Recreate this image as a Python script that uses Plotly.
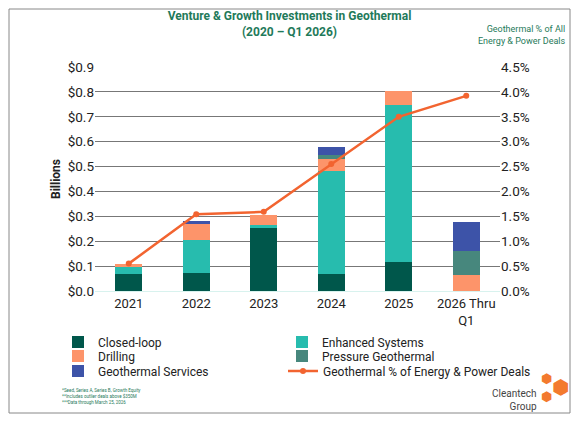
import plotly.graph_objects as go

years = ["2021", "2022", "2023", "2024", "2025", "2026 Thru<br>Q1"]
closed_loop = [0.07, 0.072, 0.254, 0.068, 0.115, 0]
enhanced = [0.027, 0.134, 0.01, 0.414, 0.632, 0]
drilling = [0.011, 0.063, 0.041, 0.048, 0.056, 0.064]
pressure = [0, 0, 0, 0.015, 0, 0.097]
services = [0, 0.012, 0, 0.032, 0, 0.116]
geo_pct = [0.55, 1.54, 1.59, 2.55, 3.5, 3.92]

OFF = 8  # page body margin
W, H = 579 - 2 * OFF, 422 - 2 * OFF
L, R, T, B = 95 - OFF, 79 - OFF, 67 - OFF, 131 - OFF
PW, PH = W - L - R, H - T - B


def px(x, y):
    # reference pixel position -> paper coords
    return (x - OFF - L) / PW, (H - B - (y - OFF)) / PH


GREEN = "#1f7a5a"
fig = go.Figure()
series = [
    ("Closed-loop", closed_loop, "#00574b", "legend"),
    ("Enhanced Systems", enhanced, "#27bcae", "legend"),
    ("Drilling", drilling, "#fd946a", "legend2"),
    ("Pressure Geothermal", pressure, "#47877d", "legend2"),
    ("Geothermal Services", services, "#3d53a8", "legend3"),
]
for name, vals, col, leg in series:
    fig.add_trace(go.Bar(x=years, y=vals, name=name, marker=dict(color=col, line=dict(width=0)),
                         width=0.4, legend=leg))
fig.add_trace(go.Scatter(x=years, y=geo_pct, name="Geothermal % of Energy & Power Deals",
                         yaxis="y2", mode="lines+markers", legend="legend4",
                         line=dict(color="#f26430", width=2.5), marker=dict(size=6)))


def leg_row(y, x=58):
    lx, ly = px(x, y)
    return dict(orientation="h", x=lx, y=ly, yanchor="middle", xanchor="left",
                entrywidth=179, font=dict(size=12), traceorder="normal", itemwidth=30,
                bgcolor="rgba(0,0,0,0)")


leg4 = leg_row(371, 58 + 225)
leg4.pop("entrywidth")

fig.update_layout(
    width=W, height=H, barmode="stack", plot_bgcolor="white", paper_bgcolor="white",
    font=dict(family="Roboto", color="#222", size=12),
    margin=dict(l=L, r=R, t=T, b=B, autoexpand=False),
    title=dict(text="<b>Venture & Growth Investments in Geothermal<br>(2020 – Q1 2026)</b>",
               x=0.5, xanchor="center", y=(H - 12) / H, yanchor="top",
               font=dict(size=12, color=GREEN)),
    xaxis=dict(tickfont=dict(size=13), showline=True, linecolor="#d8f2ee", linewidth=1,
               automargin=False),
    yaxis=dict(range=[0, 0.9], dtick=0.1, tickprefix="$", tickformat=".1f", automargin=False,
               gridcolor="#777", gridwidth=1, zeroline=False, tickfont=dict(size=13.5),
               title=dict(text="<b>Billions</b>", font=dict(size=12), standoff=4)),
    yaxis2=dict(range=[0, 4.5], dtick=0.5, ticksuffix="%", tickformat=".1f", automargin=False,
                overlaying="y", side="right", showgrid=False, tickfont=dict(size=13.5)),
    legend=leg_row(342), legend2=leg_row(356), legend3=leg_row(371), legend4=leg4,
)
ax, ay = px(568, 22)
fig.add_annotation(text="Geothermal % of All<br>Energy & Power Deals", xref="paper", yref="paper",
                   x=ax, y=ay, xanchor="right", yanchor="top", showarrow=False, align="right",
                   font=dict(size=9, color=GREEN))
fx, fy = px(60, 386)
fig.add_annotation(text="*Seed, Series A, Series B, Growth Equity<br>**Includes outlier deals above $350M<br>***Data through March 25, 2026",
                   xref="paper", yref="paper", x=fx, y=fy, xanchor="left", yanchor="top",
                   showarrow=False, align="left", font=dict(size=4.5, color=GREEN))
cx, cy = px(539, 386)
fig.add_annotation(text="Cleantech<br>Group", xref="paper", yref="paper", x=cx, y=cy,
                   xanchor="right", yanchor="top", showarrow=False, align="right",
                   font=dict(size=10, color="#444"))
# logo hexagons as glyphs
for hx, hy, s in [(546, 396, 13), (546, 378, 13), (560, 387, 20)]:
    hxp, hyp = px(hx, hy)
    fig.add_annotation(text="⬢", xref="paper", yref="paper", x=hxp, y=hyp, showarrow=False,
                       xanchor="center", yanchor="middle",
                       font=dict(size=s, color="#f37a2e", family="DejaVu Sans"))
x0, y0 = px(OFF + 1, OFF + 1)
x1, y1 = px(579 - OFF - 1, 422 - OFF - 1)
fig.add_shape(type="rect", xref="paper", yref="paper", x0=x0, x1=x1, y0=y1, y1=y0,
              line=dict(color="#888", width=1))
fig.write_html("out.html")
